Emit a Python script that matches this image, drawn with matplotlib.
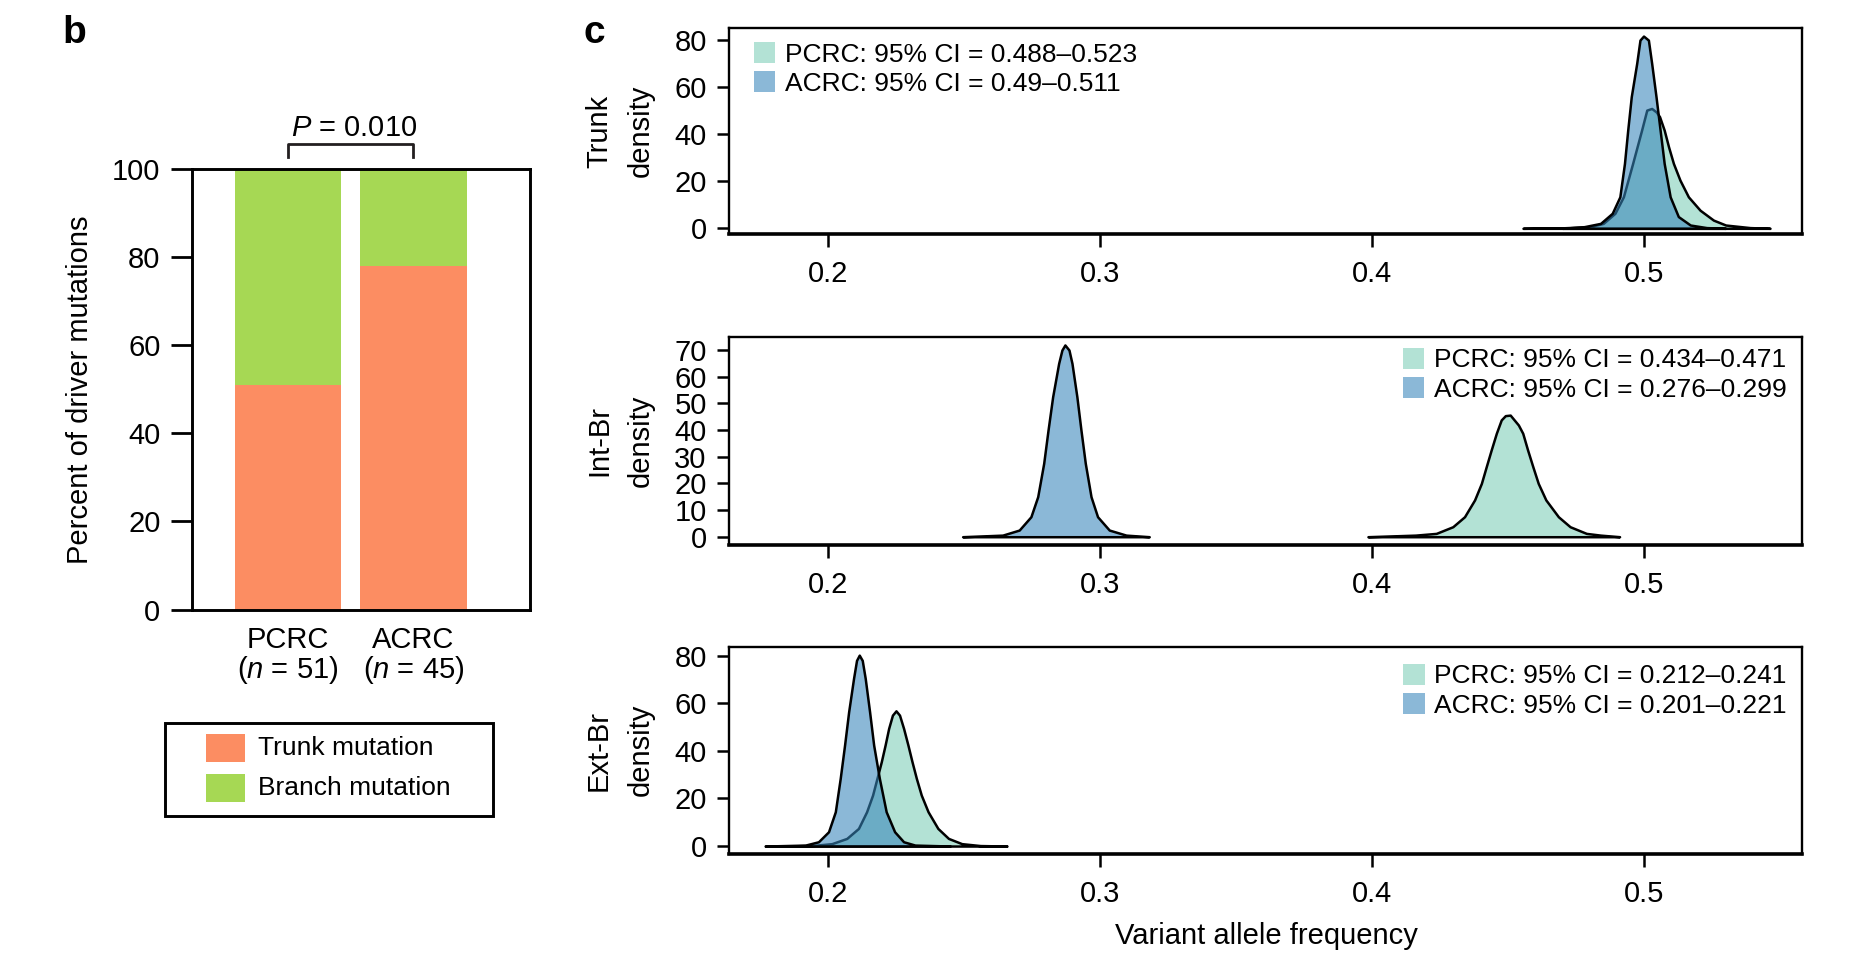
import matplotlib
matplotlib.use("Agg")
import matplotlib.pyplot as plt
from matplotlib.patches import Patch, Rectangle
from matplotlib.transforms import blended_transform_factory

plt.rcParams['font.family'] = ['Liberation Sans', 'DejaVu Sans']
plt.rcParams['mathtext.fontset'] = 'custom'
plt.rcParams['mathtext.rm'] = 'Liberation Sans'
plt.rcParams['mathtext.it'] = 'Liberation Sans:italic'

# ---- panel b: driver mutations ----
groups = ['PCRC', 'ACRC']
group_n = [51, 45]
trunk_pct = [51, 78]
branch_pct = [49, 22]
p_text = '$P$ = 0.010'
mut_labels = ['Trunk mutation', 'Branch mutation']
mut_colors = ['#FC8D62', '#A6D854']

# ---- panel c: VAF posterior densities ----
levels = ['Trunk', 'Int-Br', 'Ext-Br']
ci_pcrc = ['0.488–0.523', '0.434–0.471', '0.212–0.241']
ci_acrc = ['0.49–0.511', '0.276–0.299', '0.201–0.221']

trunk_pcrc_vaf = [0.4555, 0.470, 0.480, 0.4850, 0.4893, 0.4924, 0.4958, 0.4991, 0.5010, 0.5028,
                  0.5045, 0.5057, 0.5074, 0.5090, 0.5108, 0.5132, 0.5163, 0.5206, 0.5255, 0.530,
                  0.539, 0.5463]
trunk_pcrc_dens = [0, 0.2, 0.7, 2.1, 6.4, 13.4, 27.6, 41.8, 50.3, 51.0,
                   49.5, 47.5, 41.8, 34.7, 27.6, 20.5, 13.4, 7.7, 3.5, 1.4,
                   0.3, 0]
trunk_acrc_vaf = [0.470, 0.478, 0.484, 0.4883, 0.4911, 0.4928, 0.4940, 0.4953, 0.4973, 0.4985,
                  0.4998, 0.5016, 0.5028, 0.5044, 0.5059, 0.5074, 0.5096, 0.5126, 0.517, 0.523,
                  0.530]
trunk_acrc_dens = [0, 0.7, 2.1, 6.4, 13.4, 27.6, 41.8, 56.0, 70.2, 80.1,
                   81.8, 80.1, 70.2, 56.0, 41.8, 27.6, 13.4, 5.0, 1.4, 0.3,
                   0]

intbr_pcrc_vaf = [0.3985, 0.416, 0.4236, 0.4297, 0.4340, 0.4377, 0.4402, 0.4420, 0.4438, 0.4457,
                  0.4475, 0.4490, 0.4508, 0.4525, 0.4538, 0.4554, 0.4572, 0.4591, 0.4611, 0.4639,
                  0.4685, 0.4728, 0.4788, 0.484, 0.4910]
intbr_pcrc_dens = [0, 0.6, 1.25, 3.75, 7.5, 13.8, 20.0, 26.3, 32.5, 38.8,
                   43.8, 45.4, 45.6, 43.5, 41.9, 38.8, 32.5, 26.3, 20.0, 13.8,
                   7.5, 3.75, 1.25, 0.6, 0]
intbr_acrc_vaf = [0.2495, 0.2642, 0.2703, 0.2746, 0.2771, 0.2793, 0.2809, 0.2826, 0.2848, 0.2860,
                  0.2871, 0.2886, 0.2897, 0.2915, 0.2930, 0.2946, 0.2967, 0.2991, 0.3034, 0.3096,
                  0.3181]
intbr_acrc_dens = [0, 0.6, 2.5, 7.5, 15.0, 27.5, 40.0, 52.5, 65.0, 70.0,
                   71.9, 70.0, 65.0, 52.5, 40.0, 27.5, 15.0, 7.5, 2.5, 0.6,
                   0]

extbr_pcrc_vaf = [0.185, 0.195, 0.2014, 0.2069, 0.2112, 0.2142, 0.2164, 0.2180, 0.2196, 0.2210,
                  0.2223, 0.2237, 0.2250, 0.2263, 0.2278, 0.2294, 0.2309, 0.2325, 0.2343, 0.2368,
                  0.2404, 0.2443, 0.2492, 0.256, 0.2658]
extbr_pcrc_dens = [0, 0.3, 1.0, 3.2, 7.4, 14.4, 21.4, 28.4, 35.4, 42.4,
                   49.4, 55.0, 56.8, 55.0, 49.4, 42.4, 35.4, 28.4, 21.4, 14.4,
                   7.4, 3.2, 1.0, 0.2, 0]
extbr_acrc_vaf = [0.1769, 0.1917, 0.1965, 0.2002, 0.2027, 0.2045, 0.2061, 0.2076, 0.2094, 0.2105,
                  0.2115, 0.2126, 0.2137, 0.2153, 0.2168, 0.2189, 0.2214, 0.2245, 0.2278, 0.232,
                  0.245]
extbr_acrc_dens = [0, 0.4, 1.8, 6.0, 14.4, 28.4, 42.4, 56.4, 70.4, 78.0,
                   80.2, 78.0, 70.4, 56.4, 42.4, 28.4, 14.4, 6.0, 1.8, 0.4,
                   0]

pcrc_curves = [(trunk_pcrc_vaf, trunk_pcrc_dens), (intbr_pcrc_vaf, intbr_pcrc_dens),
               (extbr_pcrc_vaf, extbr_pcrc_dens)]
acrc_curves = [(trunk_acrc_vaf, trunk_acrc_dens), (intbr_acrc_vaf, intbr_acrc_dens),
               (extbr_acrc_vaf, extbr_acrc_dens)]
y_ticks_c = [[0, 20, 40, 60, 80], [0, 10, 20, 30, 40, 50, 60, 70], [0, 20, 40, 60, 80]]
y_lims_c = [(-2.4, 85.1), (-3.1, 74.9), (-3.15, 83.6)]

pcrc_color = '#B3E2D5'
acrc_color = (55 / 255, 133 / 255, 186 / 255, 0.58)

W, H = 1852, 960
fig = plt.figure(figsize=(W / 100, H / 100), dpi=100)

# ================= panel b =================
ax = fig.add_axes([0.1039, 0.3651, 0.1823, 0.4585])
x = [0, 1]
ax.bar(x, trunk_pct, width=0.85, color=mut_colors[0])
ax.bar(x, branch_pct, bottom=trunk_pct, width=0.85, color=mut_colors[1])
ax.set_xlim(-0.764, 1.931)
ax.set_ylim(0, 100)
ax.set_yticks([0, 20, 40, 60, 80, 100])
ax.set_xticks([])
for s in ax.spines.values():
    s.set_linewidth(2.1)
ax.tick_params(axis='y', length=15, width=2, labelsize=21, pad=8)

tr = blended_transform_factory(ax.transData, ax.transAxes)
for xi, g, n in zip(x, groups, group_n):
    ax.text(xi, -0.07, g, transform=tr, ha='center', va='center', fontsize=21)
    ax.text(xi, -0.138, '($n$ = %d)' % n, transform=tr, ha='center', va='center', fontsize=21)

# significance bracket
ax.plot([x[0], x[0], x[1], x[1]], [102.7, 105.75, 105.75, 102.7], color='#231F20',
        lw=2, clip_on=False)
ax.text(0.53, 109.5, p_text, ha='center', va='center', fontsize=21)

fig.text(80.5 / W, 1 - 390 / H, 'Percent of driver mutations', rotation=90,
         ha='center', va='center', fontsize=21)

# legend for panel b (boxed)
fig.add_artist(Rectangle((165.4 / W, 1 - 816 / H), (492.5 - 165.4) / W, (816 - 722.8) / H,
                         transform=fig.transFigure, fill=False, edgecolor='black', lw=2.1))
for i, (lab, col) in enumerate(zip(mut_labels, mut_colors)):
    top = 733.5 + i * 40
    fig.add_artist(Rectangle((205.5 / W, 1 - (top + 28.4) / H), 40 / W, 28.4 / H,
                             transform=fig.transFigure, facecolor=col, edgecolor='none'))
    fig.text(257.5 / W, 1 - (top + 14.2) / H, lab, ha='left', va='center', fontsize=19)

# ================= panel c =================
bottoms = [0.7563, 0.4323, 0.1109]
heights = [0.2142, 0.2167, 0.2151]
leg_anchor = [('upper left', (0.0233, 0.932)),
              ('upper right', (0.985, 0.947)),
              ('upper right', (0.985, 0.918))]

for i in range(3):
    axc = fig.add_axes([0.3936, bottoms[i], 0.5796, heights[i]])
    px, py = pcrc_curves[i]
    axx, ay = acrc_curves[i]
    axc.fill_between(px, py, 0, facecolor=pcrc_color, edgecolor='black', lw=1.8)
    axc.fill_between(axx, ay, 0, facecolor=acrc_color, edgecolor='black', lw=1.8)
    axc.set_xlim(0.1636, 0.5582)
    axc.set_ylim(*y_lims_c[i])
    axc.set_xticks([0.2, 0.3, 0.4, 0.5])
    axc.set_xticklabels(['0.2', '0.3', '0.4', '0.5'])
    axc.set_yticks(y_ticks_c[i])
    for s in axc.spines.values():
        s.set_linewidth(1.7)
    axc.spines['bottom'].set_linewidth(2.6)
    axc.tick_params(axis='x', length=9, width=1.8, labelsize=21, pad=10)
    axc.tick_params(axis='y', length=9, width=1.8, labelsize=21, pad=7)

    handles = [Patch(facecolor=pcrc_color, edgecolor='none'),
               Patch(facecolor=acrc_color, edgecolor='none')]
    labels = ['PCRC: 95% CI = ' + ci_pcrc[i], 'ACRC: 95% CI = ' + ci_acrc[i]]
    loc, anchor = leg_anchor[i]
    axc.legend(handles, labels, loc=loc, bbox_to_anchor=anchor, frameon=False,
               borderpad=0, borderaxespad=0, handlelength=0.81, handleheight=0.82,
               handletextpad=0.35, labelspacing=0.18, fontsize=19)

    cy = bottoms[i] + heights[i] / 2
    fig.text(599 / W, cy, levels[i], rotation=90, ha='center', va='center', fontsize=21)
    fig.text(641 / W, cy, 'density', rotation=90, ha='center', va='center', fontsize=21)

fig.text(1266 / W, 1 - 936.5 / H, 'Variant allele frequency', ha='center', va='center', fontsize=21)

fig.text(74.4 / W, 1 - 33 / H, 'b', fontweight='bold', fontsize=28, ha='center', va='center')
fig.text(594 / W, 1 - 33 / H, 'c', fontweight='bold', fontsize=28, ha='center', va='center')

fig.savefig('out.png', dpi=100)
